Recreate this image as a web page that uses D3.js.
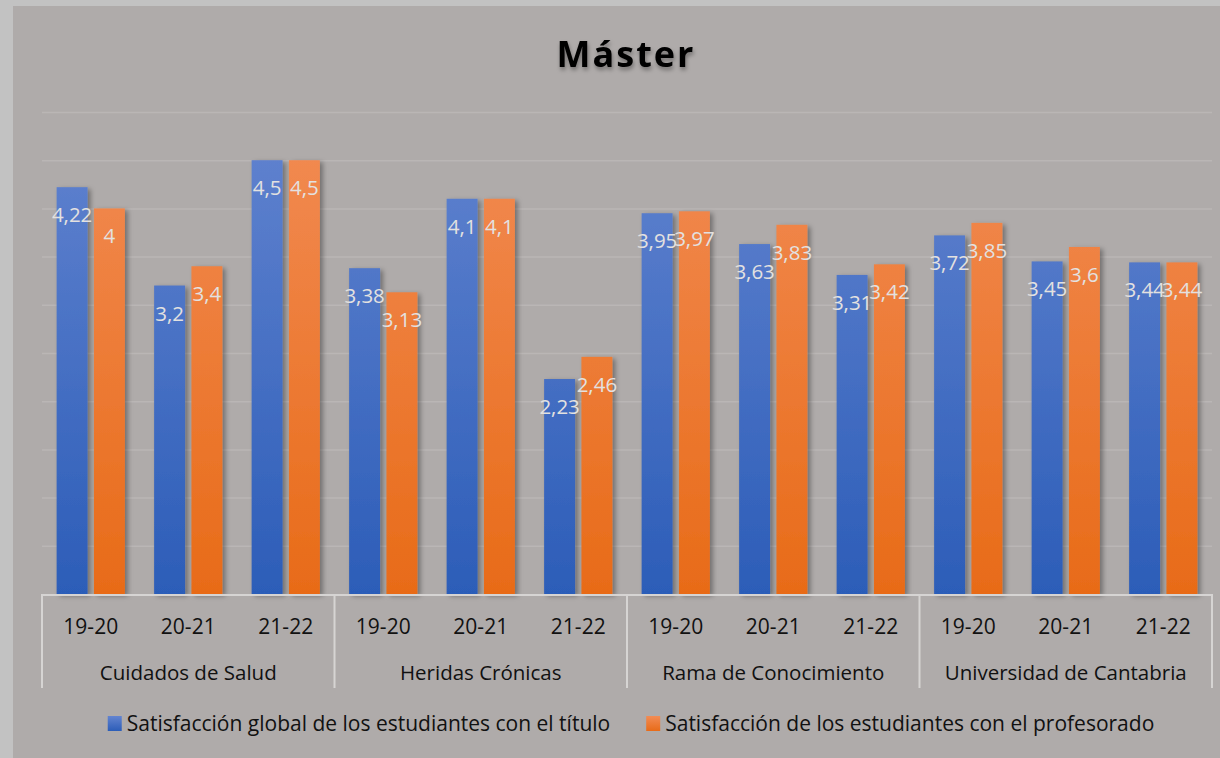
<!DOCTYPE html>
<html>
<head>
<meta charset="utf-8">
<script src="https://cdn.jsdelivr.net/npm/d3@7"></script>
<style>
  html, body { margin: 0; padding: 0; background: #c2c2c2; }
  svg { display: block; }
</style>
</head>
<body>
<div id="chart"></div>
<script>
// data
const groups = ["Cuidados de Salud", "Heridas Crónicas", "Rama de Conocimiento", "Universidad de Cantabria"];
const seasons = ["19-20", "20-21", "21-22"];
const seriesNames = [
  "Satisfacción global de los estudiantes con el título",
  "Satisfacción de los estudiantes con el profesorado"
];
const globalTitulo = [4.22, 3.2, 4.5, 3.38, 4.1, 2.23, 3.95, 3.63, 3.31, 3.72, 3.45, 3.44];
const profesorado = [4, 3.4, 4.5, 3.13, 4.1, 2.46, 3.97, 3.83, 3.42, 3.85, 3.6, 3.44];

const width = 1220, height = 758;
const margin = {top: 112, right: 8, bottom: 164, left: 42};
const innerW = width - margin.left - margin.right;

// flat categories: one per group x season
const cats = [];
groups.forEach((g, gi) => seasons.forEach((s, si) => {
  const i = gi * seasons.length + si;
  cats.push({key: g + "|" + s, group: g, season: s, values: [globalTitulo[i], profesorado[i]]});
}));

const x0 = d3.scaleBand()
  .domain(cats.map(d => d.key))
  .range([margin.left, margin.left + innerW])
  .paddingInner(0.3)
  .paddingOuter(0.15);

const x1 = d3.scaleBand()
  .domain([0, 1])
  .range([0, x0.bandwidth()])
  .paddingInner(0.17);

const y = d3.scaleLinear()
  .domain([0, 5])
  .range([594, 112]);

const fills = [
  ["#6384d0", "#2c5db8"],
  ["#f28c55", "#e86b18"]
];

const svg = d3.select("#chart").append("svg")
  .attr("width", width)
  .attr("height", height)
  .attr("viewBox", [0, 0, width, height]);

const defs = svg.append("defs");
fills.forEach((c, i) => {
  const lg = defs.append("linearGradient")
    .attr("id", "grad" + i)
    .attr("gradientUnits", "userSpaceOnUse")
    .attr("x1", 0).attr("y1", y(5)).attr("x2", 0).attr("y2", y(0));
  lg.append("stop").attr("offset", "0%").attr("stop-color", c[0]);
  lg.append("stop").attr("offset", "100%").attr("stop-color", c[1]);
});
// legend swatch gradients
fills.forEach((c, i) => {
  const lg = defs.append("linearGradient")
    .attr("id", "lgrad" + i)
    .attr("x1", 0).attr("y1", 0).attr("x2", 0).attr("y2", 1);
  lg.append("stop").attr("offset", "0%").attr("stop-color", c[0]);
  lg.append("stop").attr("offset", "100%").attr("stop-color", c[1]);
});
defs.append("filter").attr("id", "shadow")
  .attr("x", "-20%").attr("y", "-10%").attr("width", "160%").attr("height", "130%")
  .append("feDropShadow")
  .attr("dx", 3).attr("dy", 2).attr("stdDeviation", 2.5)
  .attr("flood-color", "#000").attr("flood-opacity", 0.35);
defs.append("filter").attr("id", "tshadow")
  .append("feDropShadow")
  .attr("dx", 1).attr("dy", 3).attr("stdDeviation", 2)
  .attr("flood-color", "#000").attr("flood-opacity", 0.35);

// chart background
svg.append("rect")
  .attr("x", 13).attr("y", 6)
  .attr("width", width - 13).attr("height", height - 6)
  .attr("fill", "#afabaa");

// title
svg.append("text")
  .attr("x", 626).attr("y", 67)
  .attr("text-anchor", "middle")
  .attr("font-family", "'Open Sans', sans-serif")
  .attr("font-weight", "bold")
  .attr("font-size", 36)
  .attr("letter-spacing", 2)
  .attr("fill", "#000")
  .attr("filter", "url(#tshadow)")
  .text("Máster");

// gridlines
svg.append("g")
  .attr("transform", `translate(${margin.left},0)`)
  .call(d3.axisLeft(y).ticks(10).tickSize(-innerW).tickFormat(""))
  .call(g => g.select(".domain").remove())
  .call(g => g.selectAll(".tick").filter(d => d === 0).remove())
  .call(g => g.selectAll(".tick line").attr("stroke", "#bab6b5").attr("stroke-width", 1.5));

// bars
const cat = svg.append("g").selectAll("g")
  .data(cats)
  .join("g")
  .attr("transform", d => `translate(${x0(d.key)},0)`);

cat.selectAll("rect")
  .data(d => d.values.map((v, i) => ({v, i})))
  .join("rect")
  .attr("x", d => x1(d.i))
  .attr("y", d => y(d.v))
  .attr("width", x1.bandwidth())
  .attr("height", d => y(0) - y(d.v))
  .attr("fill", d => `url(#grad${d.i})`)
  .attr("filter", "url(#shadow)");

cat.selectAll("text")
  .data(d => d.values.map((v, i) => ({v, i})))
  .join("text")
  .attr("x", d => x1(d.i) + x1.bandwidth() / 2)
  .attr("y", d => y(d.v) + 35)
  .attr("text-anchor", "middle")
  .attr("font-family", "'Open Sans', sans-serif")
  .attr("font-size", 20.5)
  .attr("fill", "#e3e1e0")
  .text(d => String(d.v).replace(".", ","));

// category axis
const axisG = svg.append("g")
  .attr("transform", `translate(0,${y(0)})`)
  .call(d3.axisBottom(x0).tickSize(0).tickFormat(k => k.split("|")[1]))
  .call(g => g.select(".domain").remove());
axisG.selectAll("text")
  .attr("y", 40)
  .attr("dy", null)
  .attr("font-family", "'Open Sans', sans-serif")
  .attr("font-size", 21)
  .attr("fill", "#111");

// axis box lines
const lineCol = "#d6d4d3";
svg.append("line")
  .attr("x1", margin.left).attr("x2", margin.left + innerW)
  .attr("y1", y(0) + 1).attr("y2", y(0) + 1)
  .attr("stroke", lineCol).attr("stroke-width", 2);

const groupEdges = groups.map((g, gi) => x0.step() * seasons.length * gi + margin.left)
  .concat([margin.left + innerW]);
svg.append("g").selectAll("line")
  .data(groupEdges)
  .join("line")
  .attr("x1", d => d).attr("x2", d => d)
  .attr("y1", y(0)).attr("y2", 688)
  .attr("stroke", lineCol).attr("stroke-width", 2);

svg.append("g").selectAll("text")
  .data(groups)
  .join("text")
  .attr("x", (g, gi) => (groupEdges[gi] + groupEdges[gi + 1]) / 2)
  .attr("y", 680)
  .attr("text-anchor", "middle")
  .attr("font-family", "'Open Sans', sans-serif")
  .attr("font-size", 20.5)
  .attr("fill", "#111")
  .text(d => d);

// legend
const legend = svg.append("g");
const items = legend.selectAll("g")
  .data(seriesNames)
  .join("g");
items.append("rect")
  .attr("width", 14).attr("height", 15)
  .attr("y", -8)
  .attr("fill", (d, i) => `url(#lgrad${i})`);
items.append("text")
  .attr("x", 19)
  .attr("y", 7)
  .attr("font-family", "'Open Sans', sans-serif")
  .attr("font-size", 21)
  .attr("fill", "#111")
  .text(d => d);
let lx = 0;
const gap = 36;
items.each(function () {
  const w = this.getBBox().width;
  d3.select(this).attr("transform", `translate(${lx},0)`);
  lx += w + gap;
});
const total = lx - gap;
legend.attr("transform", `translate(${631 - total / 2},724)`);
</script>
</body>
</html>
